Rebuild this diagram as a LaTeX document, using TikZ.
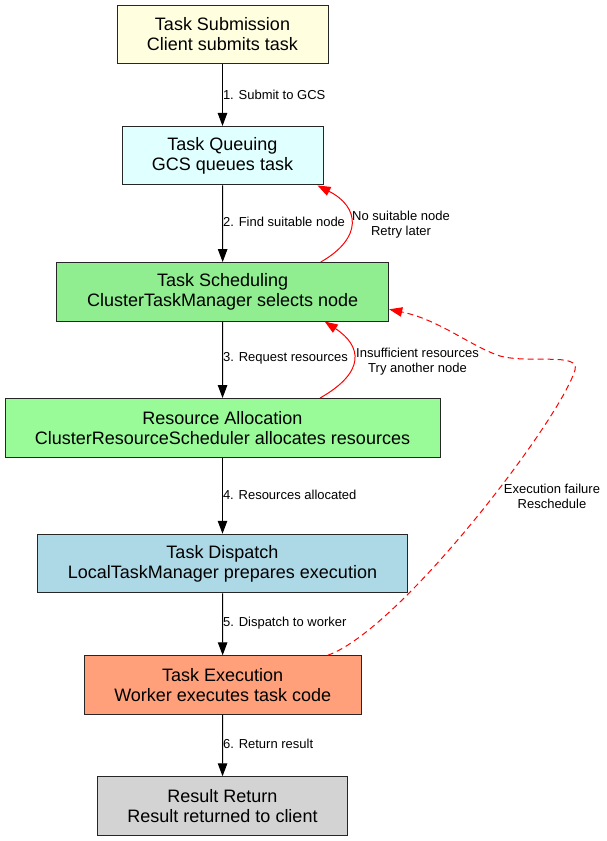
\documentclass[tikz,border=0pt]{standalone}
\usepackage{fontspec}
\setmainfont{Liberation Sans}
\usetikzlibrary{arrows.meta}
\definecolor{cyellow}{HTML}{FFFFE0}
\definecolor{ccyan}{HTML}{E0FFFF}
\definecolor{cgreen}{HTML}{90EE90}
\definecolor{cpale}{HTML}{98FB98}
\definecolor{cblue}{HTML}{ADD8E6}
\definecolor{csalmon}{HTML}{FFA07A}
\definecolor{cgray}{HTML}{D3D3D3}
\tikzset{
  box/.style={draw=black!85, line width=1pt, rectangle, inner sep=0pt, align=center,
    minimum height=58.5pt, font=\fontsize{18}{20}\selectfont},
  flow/.style={draw=black, line width=1pt, -{Triangle[length=13pt,width=9.5pt]}},
  back/.style={draw=red, line width=1pt, -{Triangle[length=13pt,width=9.5pt]}},
  elab/.style={font=\fontsize{13}{15}\selectfont, align=center, inner sep=1pt},
  slab/.style={elab, inner xsep=0pt, anchor=west, midway},
}
\begin{document}
\begin{tikzpicture}[x=1pt,y=-1pt]
\useasboundingbox (0,0) rectangle (607,841);
\node[box, fill=cyellow, minimum width=211pt] (sub) at (222.5,34.5) {Task Submission\\Client submits task};
\node[box, fill=ccyan, minimum width=201pt] (que) at (222.5,155.7) {Task Queuing\\GCS queues task};
\node[box, fill=cgreen, minimum width=332pt] (sch) at (222.7,291.8) {Task Scheduling\\ClusterTaskManager selects node};
\node[box, fill=cpale, minimum width=435pt] (all) at (222.5,427.8) {Resource Allocation\\ClusterResourceScheduler allocates resources};
\node[box, fill=cblue, minimum width=370pt] (dis) at (222.5,563.5) {Task Dispatch\\LocalTaskManager prepares execution};
\node[box, fill=csalmon, minimum width=276.7pt] (exe) at (222.7,685) {Task Execution\\Worker executes task code};
\node[box, fill=cgray, minimum width=249.6pt] (res) at (222.5,806) {Result Return\\Result returned to client};

\draw[flow] (sub) -- (que) node[slab] {1. Submit to GCS};
\draw[flow] (que) -- (sch) node[slab, yshift=1.5pt] {2. Find suitable node};
\draw[flow] (sch) -- (all) node[slab, yshift=1.5pt] {3. Request resources};
\draw[flow] (all) -- (dis) node[slab, yshift=0.5pt] {4. Resources allocated};
\draw[flow] (dis) -- (exe) node[slab, yshift=1.5pt] {5. Dispatch to worker};
\draw[flow] (exe) -- (res) node[slab, yshift=1.5pt] {6. Return result};

\draw[back] ([xshift=98pt]sch.north) .. controls (363,238) and (360,207) .. ([xshift=-6pt]que.south east);
\node[elab] (l1) at (401,224.5) {No suitable node\\Retry later};
\draw[back] ([xshift=97.5pt]all.north) .. controls (366,372) and (362,346) .. ([xshift=102pt]sch.south);
\node[elab] (l2) at (417.5,361.5) {Insufficient resources\\Try another node};
\draw[back, dash pattern=on 6pt off 4pt] ([xshift=105pt]exe.north)
  .. controls (400,630) and (560,420) .. (575,370)
  .. controls (580,352) and (530,364) .. (500,356)
  .. controls (470,346) and (440,320) .. ([yshift=-17.5pt]sch.east);
\node[elab] (l3) at (552,496.5) {Execution failure\\Reschedule};
\end{tikzpicture}
\end{document}
